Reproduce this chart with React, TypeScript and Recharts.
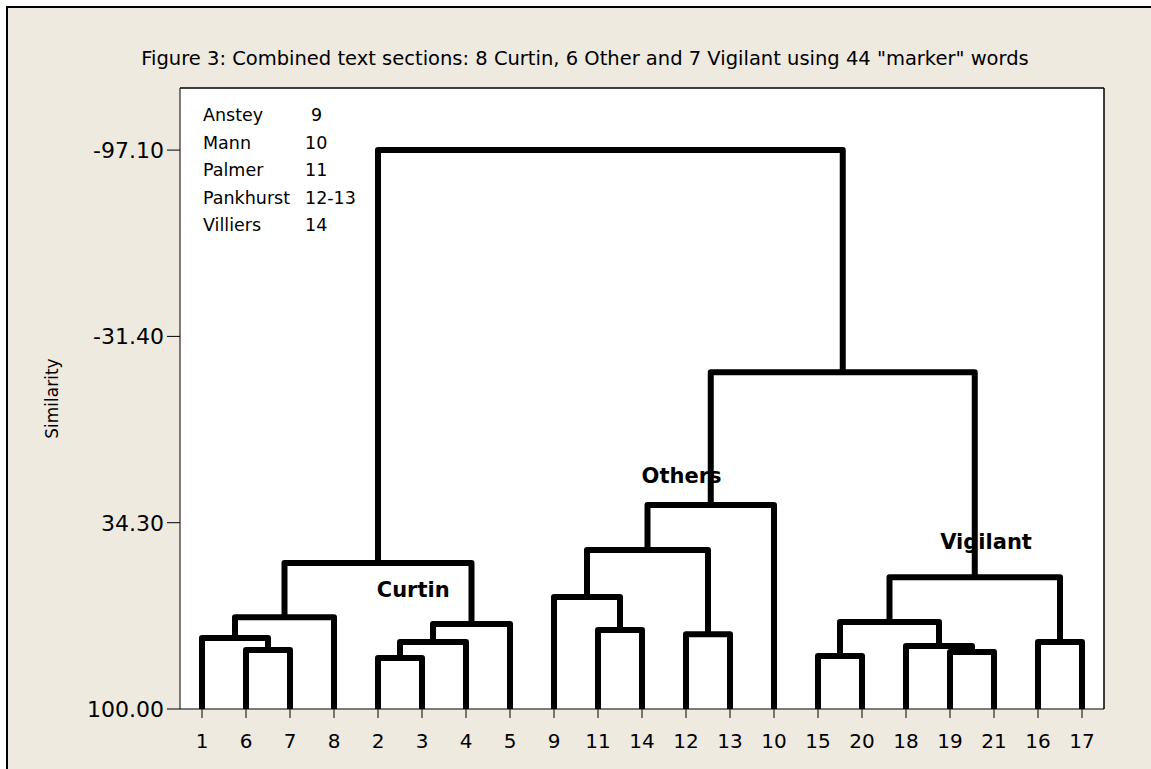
import { LineChart, Line, XAxis, YAxis, CartesianGrid, ReferenceDot, ReferenceLine } from 'recharts';

// leaf order along the x axis (text section numbers)
const leafOrder = ['1', '6', '7', '8', '2', '3', '4', '5', '9', '11', '14', '12', '13', '10', '15', '20', '18', '19', '21', '16', '17'];

// agglomeration steps: C1..C20, each joins two nodes (leaf number or earlier cluster) at a similarity level
const mergeLeft = ['6', '1', 'C2', '2', 'C4', 'C5', 'C3', '11', '9', '12', 'C9', 'C11', '15', '19', '18', 'C13', '16', 'C16', 'C12', 'C7'];
const mergeRight = ['7', 'C1', '8', '3', '4', '5', 'C6', '14', 'C8', '13', 'C10', '10', '20', '21', 'C14', 'C15', '17', 'C17', 'C18', 'C19'];
const mergeSimilarity = [79.2, 75.0, 67.6, 82.0, 76.4, 70.0, 48.5, 72.1, 60.5, 73.6, 43.9, 28.1, 81.3, 79.9, 77.8, 69.3, 76.4, 53.5, -18.8, -97.1];

const yTicks = [-97.1, -31.4, 34.3, 100];

const groupNames = ['Curtin', 'Others', 'Vigilant'];
const groupAt = [[5.8, 57.7], [11.9, 17.8], [18.82, 41.1]];

const authorNames = ['Anstey', 'Mann', 'Palmer', 'Pankhurst', 'Villiers'];
const authorSections = ['9', '10', '11', '12-13', '14'];

const FONT = 'DejaVu Sans';
const BEIGE = '#EEEAE0';
const X_DOMAIN: [number, number] = [0.5, 21.5];
const Y_DOMAIN: [number, number] = [-119, 100];

type Pt = { x: number; y: number };

const nodePos: Record<string, Pt> = {};
leafOrder.forEach((l, i) => {
  nodePos[l] = { x: i + 1, y: 100 };
});
const segments: Pt[][] = mergeSimilarity.map((h, i) => {
  const a = nodePos[mergeLeft[i]];
  const b = nodePos[mergeRight[i]];
  nodePos['C' + (i + 1)] = { x: (a.x + b.x) / 2, y: h };
  return [
    { x: a.x, y: a.y },
    { x: a.x, y: h },
    { x: b.x, y: h },
    { x: b.x, y: b.y },
  ];
});

const App = () => {
  return (
    <div style={{ position: 'fixed', left: 0, top: 0, width: 1151, height: 769, background: '#fff', overflow: 'hidden' }}>
      <div
        style={{
          position: 'absolute',
          left: 6,
          top: 6,
          width: 1200,
          height: 800,
          background: BEIGE,
          borderTop: '2px solid #000',
          borderLeft: '2px solid #000',
        }}
      />
      <div
        style={{
          position: 'absolute',
          left: 85,
          width: 1000,
          top: 47,
          textAlign: 'center',
          whiteSpace: 'nowrap',
          fontFamily: FONT,
          fontSize: 19.5,
          color: '#000',
        }}
      >
        Figure 3: Combined text sections: 8 Curtin, 6 Other and 7 Vigilant using 44 "marker" words
      </div>
      <div style={{ position: 'absolute', left: 0, top: 0 }}>
        <LineChart width={1151} height={769} margin={{ top: 88, right: 47, bottom: 0, left: 0 }}>
          <CartesianGrid horizontal={false} vertical={false} fill="#fff" />
          <XAxis
            dataKey="x"
            type="number"
            domain={X_DOMAIN}
            ticks={leafOrder.map((_, i) => i + 1)}
            tickFormatter={(v: number) => leafOrder[v - 1]}
            height={60}
            axisLine={{ stroke: '#000' }}
            tickLine={{ stroke: '#000' }}
            tickSize={9}
            tickMargin={16}
            tick={{ fill: '#000', fontSize: 20, fontFamily: FONT }}
            interval={0}
          />
          <YAxis
            type="number"
            domain={Y_DOMAIN}
            reversed
            ticks={yTicks}
            tickFormatter={(v: number) => v.toFixed(2)}
            width={180}
            axisLine={{ stroke: '#000' }}
            tickLine={{ stroke: '#000' }}
            tickSize={13}
            tickMargin={3}
            tick={{ fill: '#000', fontSize: 22, fontFamily: FONT }}
            interval={0}
            label={(props: any) => {
              const vb = props.viewBox || { x: 0, y: 88, height: 621 };
              const cx = vb.x + 53;
              const cy = vb.y + vb.height / 2;
              return (
                <text x={cx} y={cy} transform={`rotate(-90 ${cx} ${cy})`} textAnchor="middle" dominantBaseline="middle" fontFamily={FONT} fontSize={17} fill="#000">
                  Similarity
                </text>
              );
            }}
          />
          {/* top and right edges of the plot box */}
          <ReferenceLine y={Y_DOMAIN[0]} stroke="#000" strokeWidth={1.5} />
          <ReferenceLine x={X_DOMAIN[1]} stroke="#000" strokeWidth={1.5} />
          {segments.map((seg, i) => (
            <Line
              key={i}
              data={seg}
              dataKey="y"
              type="linear"
              stroke="#000"
              strokeWidth={6}
              strokeLinejoin="round"
              dot={false}
              activeDot={false}
              isAnimationActive={false}
            />
          ))}
          {groupNames.map((name, i) => (
            <ReferenceDot
              key={name}
              x={groupAt[i][0]}
              y={groupAt[i][1]}
              r={0}
              fill="none"
              stroke="none"
              label={{ value: name, position: 'center', fill: '#000', fontSize: 21, fontWeight: 'bold', fontFamily: FONT }}
            />
          ))}
        </LineChart>
      </div>
      <div style={{ position: 'absolute', left: 203, top: 102, fontFamily: FONT, fontSize: 17.5, lineHeight: '27.5px', color: '#000', whiteSpace: 'nowrap' }}>
        {authorNames.map((n, i) => (
          <div key={n} style={{ position: 'relative', height: 27.5 }}>
            <span>{n}</span>
            <span style={{ position: 'absolute', left: authorSections[i] === '9' ? 108 : 102 }}>{authorSections[i]}</span>
          </div>
        ))}
      </div>
    </div>
  );
};

export default App;
